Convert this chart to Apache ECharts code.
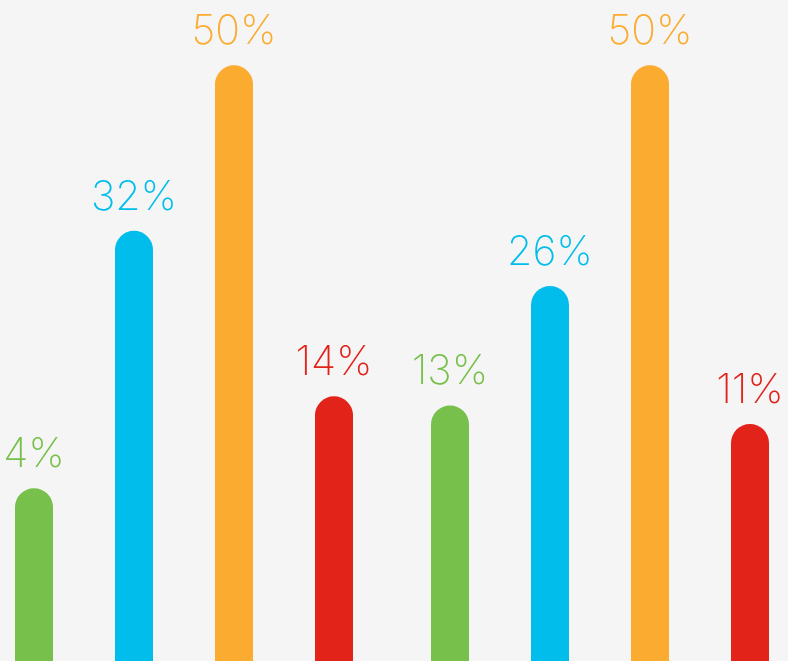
<!DOCTYPE html>
<html>
<head>
<meta charset="utf-8">
<script src="https://cdn.jsdelivr.net/npm/echarts@6/dist/echarts.min.js"></script>
<style>
html,body{margin:0;padding:0;background:#f5f5f5;}
#c{width:788px;height:661px;}
</style>
</head>
<body>
<div id="c"></div>
<script>
var groups = ['A', 'B'];
var seriesNames = ['Green', 'Blue', 'Orange', 'Red'];
var greenValues = [4, 13];
var blueValues = [32, 26];
var orangeValues = [50, 50];
var redValues = [14, 11];
var colors = ['#77c04b', '#00bdeb', '#fbab2f', '#e2231a'];
var valuesList = [greenValues, blueValues, orangeValues, redValues];

var chart = echarts.init(document.getElementById('c'));
chart.setOption({
  backgroundColor: '#f5f5f5',
  animation: false,
  grid: {left: -24, right: -20, top: 1, bottom: -2, containLabel: false, outerBoundsMode: 'none'},
  xAxis: {type: 'category', data: groups, show: false},
  yAxis: {type: 'value', min: -15, max: 57, startValue: -15, show: false},
  series: valuesList.map(function (vals, i) {
    return {
      name: seriesNames[i],
      type: 'bar',
      data: vals,
      barWidth: 38,
      barGap: '163.16%',
      itemStyle: {color: colors[i], borderRadius: [19, 19, 0, 0]},
      label: {
        show: true,
        position: 'top',
        distance: 13,
        formatter: '{c}%',
        color: colors[i],
        fontFamily: 'Inter',
        fontWeight: 200,
        fontSize: 41
      }
    };
  })
});
</script>
</body>
</html>
